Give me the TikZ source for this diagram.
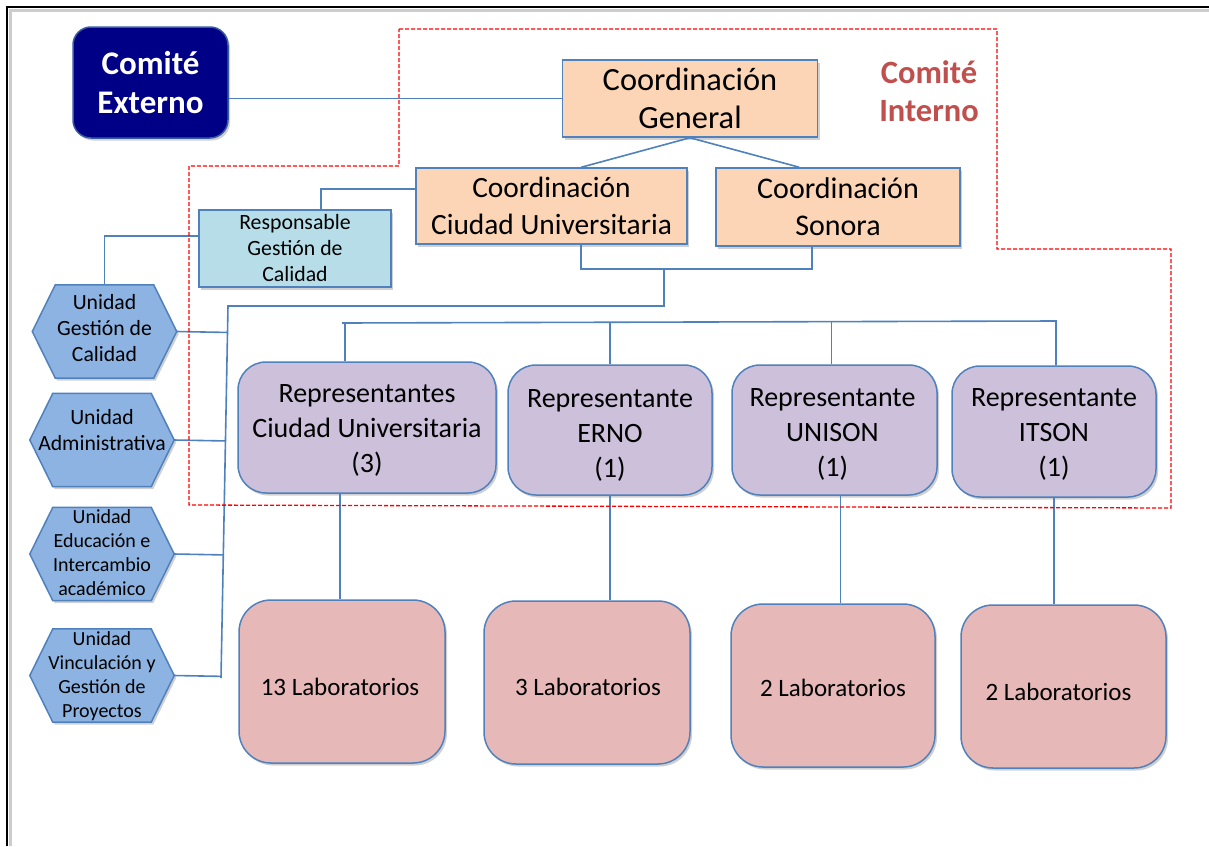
\documentclass[tikz,border=0pt]{standalone}
\usepackage{fontspec}
\setmainfont{Carlito}
\usetikzlibrary{calc,shadows}
\definecolor{bordblue}{RGB}{79,129,189}
\definecolor{navyfill}{RGB}{0,0,134}
\definecolor{navyedge}{RGB}{56,93,160}
\definecolor{peach}{RGB}{251,213,181}
\definecolor{lightcyan}{RGB}{183,222,232}
\definecolor{hexblue}{RGB}{141,179,226}
\definecolor{lilac}{RGB}{204,192,218}
\definecolor{rose}{RGB}{230,185,184}
\definecolor{intred}{RGB}{192,80,77}
\tikzset{
  shad/.style={drop shadow={shadow xshift=2pt,shadow yshift=-2.5pt,opacity=0.3,fill=black!60}},
  box/.style={draw=bordblue, line width=1.5pt, inner sep=0pt, align=center, shad},
  coordbox/.style={box, fill=peach},
  respbox/.style={box, fill=lightcyan, font=\fontsize{21.8}{26}\selectfont},
  repbox/.style={box, fill=lilac, rounded corners=28pt},
  reptext/.style={inner sep=0pt, align=center, font=\fontsize{28}{35}\selectfont},
  labbox/.style={box, fill=rose, rounded corners=32pt},
  labtext/.style={inner sep=0pt, align=center, font=\fontsize{25}{30}\selectfont},
  extbox/.style={draw=navyedge, line width=1.5pt, fill=navyfill, rounded corners=18pt, inner sep=0pt,
     align=center, text=white, font=\bfseries\fontsize{33}{39}\selectfont, shad},
  hexbox/.style={minimum width=144pt, minimum height=93pt, inner sep=0pt},
  hexshape/.style={draw=bordblue, line width=1.5pt, fill=hexblue, shad},
  hexbig/.style={inner sep=0pt, align=center, font=\fontsize{21.7}{26}\selectfont},
  hexsmall/.style={inner sep=0pt, align=center, font=\fontsize{20}{24}\selectfont},
  conn/.style={draw=bordblue, line width=1.6pt},
  interno/.style={draw=red, line width=1.3pt, dash pattern=on 4pt off 2pt},
}
\newcommand\hexat[6]{%
  \node[hexbox] (#1) at (#2,#3) {};
  \path[hexshape] (#1.west) -- ([xshift=23pt]#1.north west) -- ([xshift=-23pt]#1.north east)
     -- (#1.east) -- ([xshift=-23pt]#1.south east) -- ([xshift=23pt]#1.south west) -- cycle;
  \node[#5] (#1t) at ($(#1)+(0,#4)$) {#6};
}
\begin{document}
\begin{tikzpicture}[x=1pt,y=-1pt]
\useasboundingbox (0,0) rectangle (1209,846);
\fill[white] (0,0) rectangle (1209,846);
% page frame
\draw[black!20, line width=3pt] (10.5,846) -- (10.5,10.5) -- (1209,10.5);
\draw[black, line width=1.8pt] (7,846) -- (7,7) -- (1209,7);

% top boxes
\node[extbox, minimum width=155pt, minimum height=111pt] (ce) at (150.5,82.5) {Comité\\Externo};
\node[coordbox, minimum width=255pt, minimum height=77pt, font=\fontsize{32.4}{38}\selectfont] (cg) at (690,98.5) {Coordinación\\General};
\node[coordbox, minimum width=271pt, minimum height=76pt, font=\fontsize{29.4}{37}\selectfont] (ccu) at (551.5,206) {Coordinación\\Ciudad Universitaria};
\node[coordbox, minimum width=244pt, minimum height=78pt, font=\fontsize{30}{37}\selectfont] (cs) at (838,207) {Coordinación\\Sonora};
\node[respbox, minimum width=192pt, minimum height=77pt] (rgc) at (295,248.5) {Responsable\\Gestión de\\Calidad};
\node[text=intred, font=\bfseries\fontsize{32.5}{38}\selectfont, align=center, inner sep=0pt] (ci) at (929,91) {Comité\\Interno};

% hexagons
\hexat{hex1}{104.5}{331.5}{-3}{hexbig}{Unidad\\Gestión de\\Calidad}
\hexat{hex2}{102}{440}{-9.5}{hexbig}{Unidad\\Administrativa}
\hexat{hex3}{102}{554}{-1}{hexsmall}{Unidad\\Educación e\\Intercambio\\académico}
\hexat{hex4}{102}{675.5}{1}{hexsmall}{Unidad\\Vinculación y\\Gestión de\\Proyectos}

% representatives
\node[repbox, minimum width=258pt, minimum height=131pt] (rep1) at (367,427.5) {};
\node[reptext] (rep1t) at ($(rep1)+(0,3)$) {Representantes\\Ciudad Universitaria\\(3)};
\node[repbox, minimum width=204pt, minimum height=130pt] (rep2) at (610,430) {};
\node[reptext] (rep2t) at ($(rep2)+(0,5)$) {Representante\\ERNO\\(1)};
\node[repbox, minimum width=205pt, minimum height=130pt] (rep3) at (834.5,430) {};
\node[reptext] (rep3t) at ($(rep3)+(-2,4)$) {Representante\\UNISON\\(1)};
\node[repbox, minimum width=204pt, minimum height=131pt] (rep4) at (1054,431.5) {};
\node[reptext] (rep4t) at ($(rep4)+(0,3)$) {Representante\\ITSON\\(1)};

% laboratories
\node[labbox, minimum width=206pt, minimum height=163pt] (lab1) at (342,681.5) {};
\node[labtext] (lab1t) at ($(lab1)+(-2,5)$) {13 Laboratorios};
\node[labbox, minimum width=206pt, minimum height=163pt] (lab2) at (587,682.5) {};
\node[labtext] (lab2t) at ($(lab2)+(1,4)$) {3 Laboratorios};
\node[labbox, minimum width=204pt, minimum height=163pt] (lab3) at (833,685.5) {};
\node[labtext] (lab3t) at ($(lab3)+(0,2)$) {2 Laboratorios};
\node[labbox, minimum width=205pt, minimum height=163pt] (lab4) at (1063.5,686.5) {};
\node[labtext] (lab4t) at ($(lab4)+(-5,5)$) {2 Laboratorios};

% connectors, top
\draw[conn] (cg.west -| ce.east) -- (cg.west);
\draw[conn] (cg.south) -- ($(ccu.north west)+(166,0)$);
\draw[conn] (cg.south) -- ($(cs.north west)+(84,0)$);
\draw[conn] ($(ccu.north west)+(0,22)$) -| ($(rgc.north west)+(123,0)$);
\draw[conn] ($(rgc.north west)+(0,27)$) -| (hex1.north);
\coordinate (csb) at ($(cs.south west)+(97,0)$);
\draw[conn] ($(ccu.south west)+(166,0)$) -- ++(0,24) -| (csb);
\coordinate (br) at (664,268);
\coordinate (vt) at (228,306);
\coordinate (vb) at (221,678);
\draw[conn] (br) |- (vt) -- (vb);
\draw[conn] (hex1.east) -- ($(vt)!(hex1.east)!(vb)$);
\draw[conn] (hex2.east) -- ($(vt)!(hex2.east)!(vb)$);
\draw[conn] (hex3.east) -- ($(vt)!(hex3.east)!(vb)$);
\draw[conn] (hex4.east) -- ($(vt)!(hex4.east)!(vb)$);

% bar to representatives
\coordinate (b2l) at (342,323);
\coordinate (b2r) at (1056,321);
\draw[conn] (b2l) -- (b2r) -- (b2r |- rep4.north);
\coordinate (d1) at ($(rep1.north west)+(108,0)$);
\draw[conn] (d1) -- (d1 |- b2l);
\draw[conn] (rep2.north) -- ($(rep2.north |- b2l)+(0,-0.5)$);
\coordinate (d3) at ($(rep3.north)+(-3,0)$);
\draw[conn] (d3) -- ($(d3 |- b2l)+(0,-1)$);

% representatives to labs
\coordinate (e1) at ($(rep1.south)+(-27,0)$);
\draw[conn] (e1) -- (e1 |- lab1.north);
\draw[conn] (rep2.south) -- (rep2.south |- lab2.north);
\coordinate (e3) at ($(rep3.south)+(6,0)$);
\draw[conn] (e3) -- (e3 |- lab3.north);
\draw[conn] (rep4.south) -- (rep4.south |- lab4.north);

% internal committee outline
\draw[interno] (399,29) -- (997,29) -- (997,249) -- (1171,249) -- (1171,508)
   -- (189,505) -- (189,166) -- (399,166) -- cycle;
\end{tikzpicture}
\end{document}
